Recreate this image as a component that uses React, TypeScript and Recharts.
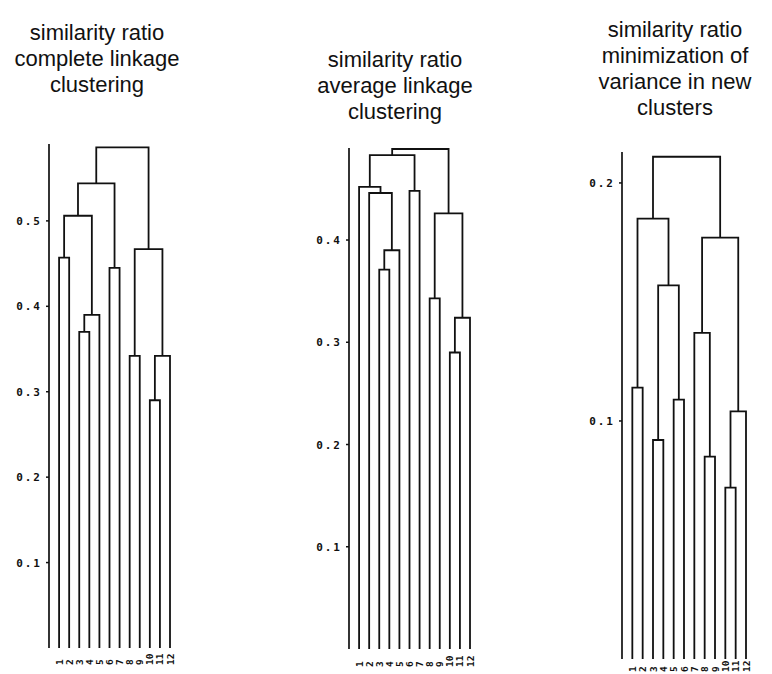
import { LineChart, Line, XAxis, YAxis } from "recharts";

const leafLabels = ["1", "2", "3", "4", "5", "6", "7", "8", "9", "10", "11", "12"];

// each merge: [left id, right id, height]; ids 0-11 are the leaves, 12+ the merges above in order
const completeMerges: [number, number, number][] = [
  [0, 1, 0.457],
  [2, 3, 0.37],
  [13, 4, 0.39],
  [12, 14, 0.506],
  [5, 6, 0.445],
  [15, 16, 0.544],
  [7, 8, 0.342],
  [9, 10, 0.29],
  [19, 11, 0.342],
  [18, 20, 0.467],
  [17, 21, 0.586],
];

const averageMerges: [number, number, number][] = [
  [2, 3, 0.371],
  [12, 4, 0.39],
  [1, 13, 0.446],
  [0, 14, 0.452],
  [5, 6, 0.448],
  [15, 16, 0.483],
  [7, 8, 0.343],
  [9, 10, 0.29],
  [19, 11, 0.324],
  [18, 20, 0.426],
  [17, 21, 0.489],
];

const wardMerges: [number, number, number][] = [
  [0, 1, 0.114],
  [2, 3, 0.092],
  [4, 5, 0.109],
  [13, 14, 0.157],
  [12, 15, 0.185],
  [7, 8, 0.085],
  [6, 17, 0.137],
  [9, 10, 0.072],
  [19, 11, 0.104],
  [18, 20, 0.177],
  [16, 21, 0.211],
];

const completeTicks = [0.1, 0.2, 0.3, 0.4, 0.5];
const averageTicks = [0.1, 0.2, 0.3, 0.4];
const wardTicks = [0.1, 0.2];

const completeTitle = ["similarity ratio", "complete linkage", "clustering"];
const averageTitle = ["similarity ratio", "average linkage", "clustering"];
const wardTitle = ["similarity ratio", "minimization of", "variance in new", "clusters"];

const INK = "#111";

// turn merges into the U shaped links of a dendrogram
function buildLinks(merges: [number, number, number][]) {
  const pos = leafLabels.map((_, i) => ({ x: i + 1, y: 0 }));
  return merges.map(([a, b, h]) => {
    const l = pos[a];
    const r = pos[b];
    pos.push({ x: (l.x + r.x) / 2, y: h });
    return [
      { x: l.x, y: l.y },
      { x: l.x, y: h },
      { x: r.x, y: h },
      { x: r.x, y: r.y },
    ];
  });
}

const YTick = (props: any) => {
  const { x, y, payload } = props;
  return (
    <text
      x={x}
      y={y}
      dy={4}
      textAnchor="end"
      fontFamily="DejaVu Sans Mono"
      fontWeight="bold"
      fontSize={11}
      letterSpacing={2}
      fill={INK}
    >
      {Number(payload.value).toFixed(1)}
    </text>
  );
};

const XTick = (props: any) => {
  const { x, y, payload } = props;
  return (
    <text
      x={x}
      y={y}
      dy={3.5}
      transform={`rotate(-90 ${x} ${y})`}
      textAnchor="start"
      fontFamily="DejaVu Sans Mono"
      fontWeight="bold"
      fontSize={9.5}
      fill={INK}
    >
      {leafLabels[payload.value - 1]}
    </text>
  );
};

type DendroProps = {
  merges: [number, number, number][];
  ticks: number[];
  yMax: number;
  left: number;
  right: number;
  top: number;
  bottom: number;
  labelGap: number;
};

function Dendrogram({ merges, ticks, yMax, left, right, top, bottom, labelGap }: DendroProps) {
  const links = buildLinks(merges);
  const width = right - left + 60;
  const height = bottom - top + 40;
  return (
    <div style={{ position: "absolute", left: left - 50, top: top - 10 }}>
      <LineChart width={width} height={height} margin={{ top: 10, right: 10, bottom: 0, left: 0 }}>
        <XAxis
          type="number"
          dataKey="x"
          domain={[0, 12]}
          ticks={leafLabels.map((_, i) => i + 1)}
          interval={0}
          axisLine={false}
          tickLine={false}
          tickSize={0}
          tickMargin={labelGap}
          height={30}
          tick={<XTick />}
        />
        <YAxis
          type="number"
          domain={[0, yMax]}
          ticks={ticks}
          width={50}
          axisLine={{ stroke: INK, strokeWidth: 1.7 }}
          tickLine={{ stroke: INK, strokeWidth: 1.5 }}
          tickSize={3}
          tickMargin={4}
          tick={<YTick />}
        />
        {links.map((seg, i) => (
          <Line
            key={i}
            data={seg}
            dataKey="y"
            type="linear"
            stroke={INK}
            strokeWidth={1.8}
            dot={false}
            activeDot={false}
            isAnimationActive={false}
          />
        ))}
      </LineChart>
    </div>
  );
}

function Title({ lines, cx, top }: { lines: string[]; cx: number; top: number }) {
  return (
    <div
      style={{
        position: "absolute",
        left: cx - 110,
        top,
        width: 220,
        textAlign: "center",
        fontFamily: "'Liberation Sans', Arial, sans-serif",
        fontSize: 22,
        lineHeight: "26px",
        color: INK,
      }}
    >
      {lines.map((l) => (
        <div key={l}>{l}</div>
      ))}
    </div>
  );
}

export default function App() {
  return (
    <div
      style={{
        position: "absolute",
        left: 0,
        top: 0,
        width: 772,
        height: 674,
        overflow: "hidden",
        background: "#fff",
      }}
    >
      <Title lines={completeTitle} cx={97} top={20} />
      <Title lines={averageTitle} cx={395} top={47} />
      <Title lines={wardTitle} cx={675} top={17} />
      <Dendrogram merges={completeMerges} ticks={completeTicks} yMax={0.59} left={49} right={170} top={144} bottom={648} labelGap={17} />
      <Dendrogram merges={averageMerges} ticks={averageTicks} yMax={0.49} left={349} right={470} top={148} bottom={649} labelGap={18} />
      <Dendrogram merges={wardMerges} ticks={wardTicks} yMax={0.213} left={622} right={746} top={152} bottom={659} labelGap={13} />
    </div>
  );
}
